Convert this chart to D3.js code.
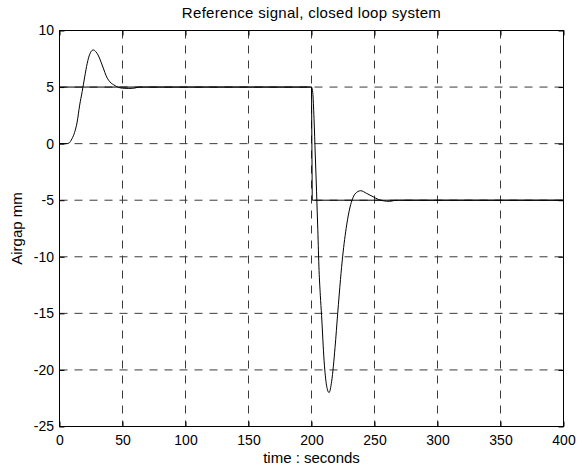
<!DOCTYPE html>
<html>
<head>
<meta charset="utf-8">
<script src="https://cdn.jsdelivr.net/npm/d3@7"></script>
<style>
  body { margin: 0; background: #fff; }
  svg { display: block; }
  text { font-family: "Liberation Sans", Arial, sans-serif; fill: #000; }
</style>
</head>
<body>
<svg id="chart" width="582" height="471"></svg>
<script>
// ---------- data ----------
const xTicks = [0, 50, 100, 150, 200, 250, 300, 350, 400];
const yTicks = [-25, -20, -15, -10, -5, 0, 5, 10];

// reference step signal
const refTime  = [0, 200, 200.6, 400];
const refValue = [5, 5, -5, -5];

// closed loop response
const respTime = [0, 5, 7.5, 9, 10, 12, 14, 16, 18, 20, 22, 24, 26, 27, 29, 31, 33, 35, 37, 39, 41, 43, 45, 47, 50, 55, 60, 63,
  200, 201, 202, 203, 204, 205, 206, 207, 208, 210, 212, 213.9, 216, 218.7, 220.8, 223, 224.7, 227.9, 230.6, 232.5, 234.5,
  239, 243.8, 249, 253, 257, 262, 266, 270, 400];
const respValue = [0, 0, 0.05, 0.25, 0.45, 1.0, 1.9, 3.4, 4.6, 5.9, 7.1, 7.9, 8.25, 8.28, 8.1, 7.75, 7.2, 6.6, 6.0, 5.6, 5.35, 5.2, 5.06, 4.97, 4.9, 4.88, 4.92, 5,
  5, 4.5, 2.2, -1.0, -4.2, -7.6, -11.2, -13.4, -15.2, -19.2, -21.4, -22.0, -21.0, -18.0, -15.0, -12.0, -10.0, -7.2, -5.6, -4.9, -4.45,
  -4.16, -4.4, -4.7, -4.93, -5.05, -5.1, -5.02, -5, -5];

const chart = {
  box: {left: 59.5, right: 563.5, top: 30.5, bottom: 426.5},
  grid: '#3a3a3a'
};

function translate(x, y) {
  return `translate(${x}, ${y})`;
}

const svg = d3.select('#chart');
const box = chart.box;

const xScale = d3.scaleLinear().domain([0, 400]).range([box.left, box.right]);
const yScale = d3.scaleLinear().domain([-25, 10]).range([box.bottom, box.top]);

// plain hyphen for negatives, like the original
const plainFormat = d => String(d);

// grid lines
svg.append('g').selectAll('line.vgrid')
  .data(xTicks.slice(1, -1))
  .enter().append('line')
    .attr('class', 'vgrid')
    .attr('x1', d => xScale(d)).attr('x2', d => xScale(d))
    .attr('y1', box.top).attr('y2', box.bottom)
    .style('stroke', chart.grid)
    .style('stroke-dasharray', '8,7');

svg.append('g').selectAll('line.hgrid')
  .data(yTicks.slice(1, -1))
  .enter().append('line')
    .attr('class', 'hgrid')
    .attr('x1', box.left).attr('x2', box.right)
    .attr('y1', d => yScale(d)).attr('y2', d => yScale(d))
    .style('stroke', chart.grid)
    .style('stroke-dasharray', '8,7');

// axes with inward ticks
const xAxis = svg.append('g')
  .attr('transform', translate(0, box.bottom))
  .call(d3.axisBottom(xScale).tickValues(xTicks).tickFormat(plainFormat).tickSizeInner(-5).tickSizeOuter(0).tickPadding(8.5));
const yAxis = svg.append('g')
  .attr('transform', translate(box.left, 0))
  .call(d3.axisLeft(yScale).tickValues(yTicks).tickFormat(plainFormat).tickSizeInner(-5).tickSizeOuter(0).tickPadding(5.5));
svg.append('g')
  .attr('transform', translate(0, box.top))
  .call(d3.axisTop(xScale).tickValues(xTicks).tickSizeInner(-5).tickSizeOuter(0).tickFormat(''));
svg.append('g')
  .attr('transform', translate(box.right, 0))
  .call(d3.axisRight(yScale).tickValues(yTicks).tickSizeInner(-5).tickSizeOuter(0).tickFormat(''));

svg.selectAll('.domain').remove();
svg.selectAll('.tick line').style('stroke', '#000');
xAxis.selectAll('text').style('font-size', '14px').style('font-family', '"Liberation Sans", Arial, sans-serif');
yAxis.selectAll('text').style('font-size', '14px').style('font-family', '"Liberation Sans", Arial, sans-serif');

// lines
const line = d3.line()
  .x(d => xScale(d[0]))
  .y(d => yScale(d[1]));

svg.append('path')
  .datum(d3.zip(refTime, refValue))
  .attr('d', line)
  .style('fill', 'none')
  .style('stroke', '#000')
  .style('stroke-width', 1);

svg.append('path')
  .datum(d3.zip(respTime, respValue))
  .attr('d', line.curve(d3.curveMonotoneX))
  .style('fill', 'none')
  .style('stroke', '#000')
  .style('stroke-width', 1);

// box
svg.append('rect')
  .attr('x', box.left).attr('y', box.top)
  .attr('width', box.right - box.left).attr('height', box.bottom - box.top)
  .style('fill', 'none').style('stroke', '#000').style('stroke-width', 1);

// labels
svg.append('text')
  .attr('x', (box.left + box.right) / 2).attr('y', 18)
  .attr('text-anchor', 'middle')
  .style('font-size', '15px')
  .style('letter-spacing', '0.3px')
  .text('Reference signal, closed loop system');

svg.append('text')
  .attr('x', (box.left + box.right) / 2).attr('y', 463)
  .attr('text-anchor', 'middle')
  .style('font-size', '15px')
  .text('time : seconds');

svg.append('text')
  .attr('transform', translate(22, (box.top + box.bottom) / 2) + ' rotate(-90)')
  .attr('text-anchor', 'middle')
  .style('font-size', '15px')
  .text('Airgap mm');
</script>
</body>
</html>
